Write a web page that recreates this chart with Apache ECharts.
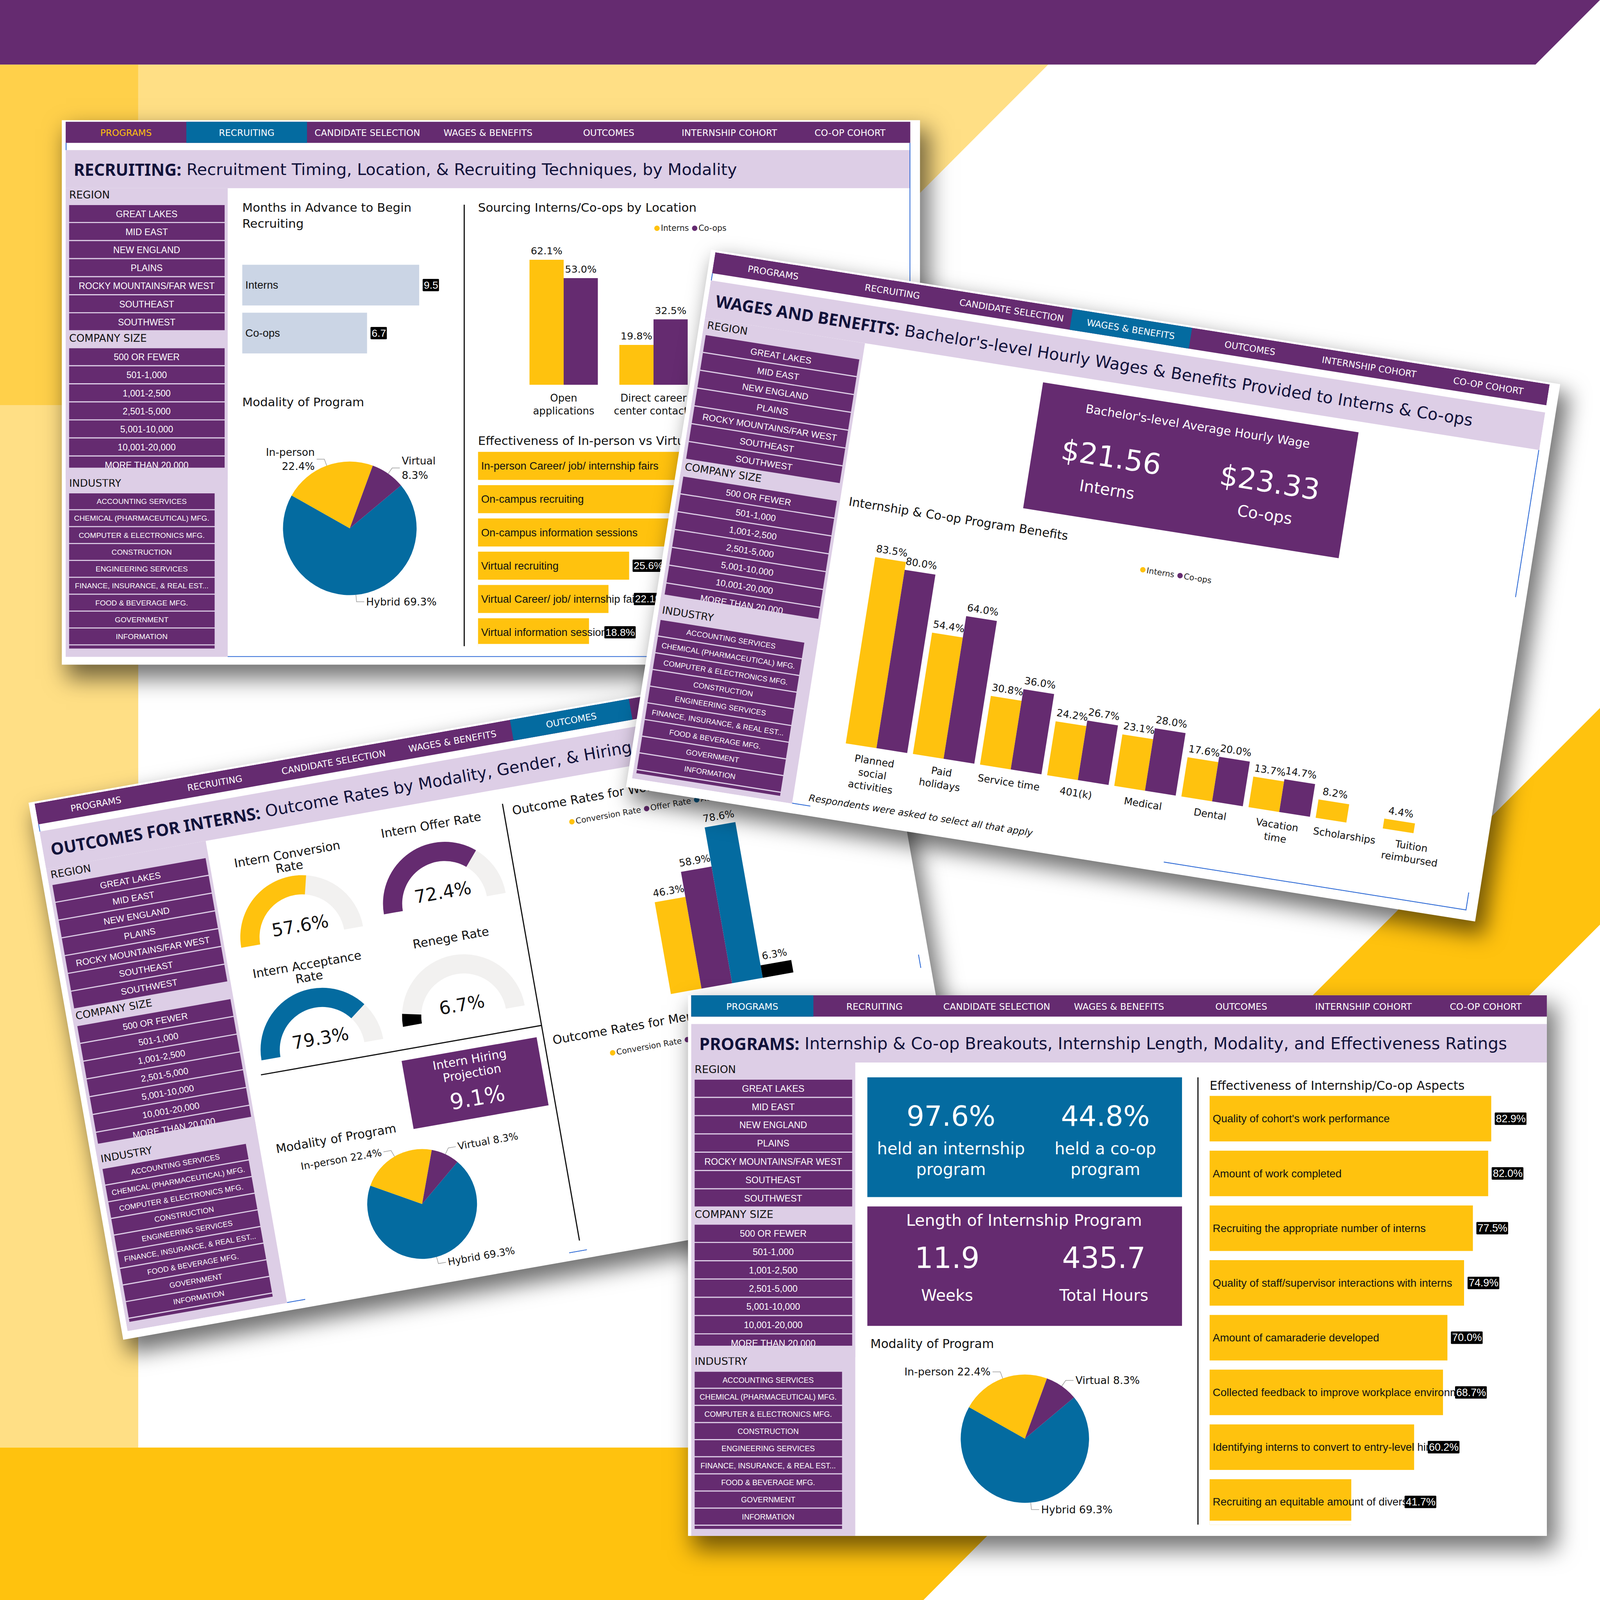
<!DOCTYPE html>
<html>
<head>
<meta charset="utf-8">
<title>Internship and co-op survey dashboards</title>
<script src="https://cdn.jsdelivr.net/npm/echarts@6/dist/echarts.min.js"></script>
<style>
  html, body { margin: 0; padding: 0; background: #fff; overflow: hidden; }
  #page { position: relative; width: 4167px; height: 4167px; overflow: hidden; transform-origin: 0 0; }
  .full { position: absolute; left: 0; top: 0; width: 4167px; height: 4167px; }
  .panel { position: absolute; left: 0; top: 0; transform-origin: 0 0; }
  .card { position: absolute; background: #fff; }
  .chart { position: absolute; left: 0; top: 0; }
</style>
</head>
<body>
<div id="page"><div id="bg" class="full"></div></div>
<script>
// colours
const PURPLE = "#652B70";
const BLUE = "#046BA0";
const YELLOW = "#FFC20E";
const LILAC = "#DDCEE6";
const SLATE = "#CBD5E5";
const GREY = "#F2F1F0";
const INK = "#11123A";
const LINE_BLUE = "#2F6BD6";
const UI_FONT = "DejaVu Sans";
const BOX_FONT = "Liberation Sans";

// sidebar + nav text
const navTabs = ["PROGRAMS", "RECRUITING", "CANDIDATE SELECTION", "WAGES & BENEFITS", "OUTCOMES", "INTERNSHIP COHORT", "CO-OP COHORT"];
const regionList = ["GREAT LAKES", "MID EAST", "NEW ENGLAND", "PLAINS", "ROCKY MOUNTAINS/FAR WEST", "SOUTHEAST", "SOUTHWEST"];
const sizeList = ["500 OR FEWER", "501-1,000", "1,001-2,500", "2,501-5,000", "5,001-10,000", "10,001-20,000", "MORE THAN 20,000"];
const industryList = ["ACCOUNTING SERVICES", "CHEMICAL (PHARMACEUTICAL) MFG.", "COMPUTER & ELECTRONICS MFG.", "CONSTRUCTION", "ENGINEERING SERVICES", "FINANCE, INSURANCE, & REAL EST...", "FOOD & BEVERAGE MFG.", "GOVERNMENT", "INFORMATION"];

// recruiting
const monthCats = ["Interns", "Co-ops"];
const monthVals = [9.5, 6.7];
const locationCats = ["Open\napplications", "Direct career\ncenter contacts"];
const locationInterns = [62.1, 19.8];
const locationCoops = [53.0, 32.5];
const techCats = ["In-person Career/ job/ internship fairs", "On-campus recruiting", "On-campus information sessions", "Virtual recruiting", "Virtual Career/ job/ internship fairs", "Virtual information sessions"];
const techVals = [38.6, 35.9, 33.6, 25.6, 22.1, 18.8]; // first three are hidden behind the wages card, estimated

// shared pie
const modalityNames = ["Hybrid", "In-person", "Virtual"];
const modalityVals = [69.3, 22.4, 8.3];

// wages
const benefitCats = ["Planned\nsocial\nactivities", "Paid\nholidays", "Service time", "401(k)", "Medical", "Dental", "Vacation\ntime", "Scholarships", "Tuition\nreimbursed"];
const benefitInterns = [83.5, 54.4, 30.8, 24.2, 23.1, 17.6, 13.7, 8.2, 4.4];
const benefitCoops = [80.0, 64.0, 36.0, 26.7, 28.0, 20.0, 14.7, null, null];

// outcomes
const gaugeNames = ["Intern Conversion\nRate", "Intern Offer Rate", "Intern Acceptance\nRate", "Renege Rate"];
const gaugeVals = [57.6, 72.4, 79.3, 6.7];
const rateNames = ["Conversion Rate", "Offer Rate", "Acceptance Rate", "Renege Rate"];
const womenRates = [46.3, 58.9, 78.6, 6.3];

// programs
const aspectCats = ["Quality of cohort's work performance", "Amount of work completed", "Recruiting the appropriate number of interns", "Quality of staff/supervisor interactions with interns", "Amount of camaraderie developed", "Collected feedback to improve workplace environment", "Identifying interns to convert to entry-level hires", "Recruiting an equitable amount of divers"];
const aspectVals = [82.9, 82.0, 77.5, 74.9, 70.0, 68.7, 60.2, 41.7];

const pct = v => v.toFixed(1) + "%";
const TITLE_SIZE = 31.5;
// gap before the value chip; rows with long names push it further out
const monthChipGaps = [9, 9];
const techChipGaps = [9, 9, 9, 9, 66, 40];
const aspectChipGaps = [9, 9, 9, 9, 9, 31, 35, 137];

function rect(x, y, w, h, fill, z) {
  return { type: "rect", silent: true, z: z || 0, shape: { x: x, y: y, width: w, height: h }, style: { fill: fill } };
}
function line(x1, y1, x2, y2, color, width) {
  return { type: "line", silent: true, z: 1, shape: { x1: x1, y1: y1, x2: x2, y2: y2 }, style: { stroke: color, lineWidth: width } };
}
function label(x, y, text, size, opts) {
  opts = opts || {};
  return {
    type: "text", silent: true, z: opts.z || 2, x: x, y: y,
    style: {
      text: text, fill: opts.color || "#111",
      font: (opts.style || "") + " " + size + "px " + (opts.family || UI_FONT),
      textAlign: opts.align || "left", textVerticalAlign: "middle",
      lineHeight: opts.lineHeight || Math.round(size * 1.2)
    }
  };
}

// nav strip, title band and the filter sidebar are the same on every card
function chrome(cfg) {
  const W = 2200, H = cfg.H;
  let els = [];
  els.push(rect(0, 74, W, 99, LILAC));
  els.push(rect(0, 173, 422, H - 173, LILAC));
  els.push(rect(0, 0, W, 55, PURPLE));
  navTabs.forEach((tab, i) => {
    const w = W / 7;
    if (i === cfg.active) els.push(rect(i * w, 0, w, 55, BLUE));
    els.push(label(i * w + w / 2, 29, tab, 23.5, { align: "center", color: i === cfg.gold ? YELLOW : "#fff" }));
  });
  if (cfg.tick) els.push(line(1, 55, 1, 74, LINE_BLUE, 2.5));
  els.push({
    type: "text", silent: true, z: 2, x: 21, y: 124,
    style: {
      text: "{b|" + cfg.boldTitle + "} " + cfg.title, fill: INK,
      font: "42.4px " + UI_FONT, textVerticalAlign: "middle",
      rich: { b: { font: "bold 43.5px Noto Sans", fill: INK } }
    }
  });
  els.push(label(9, 190, "REGION", 27));
  regionList.forEach((r, i) => {
    els.push(rect(9, 217 + i * 47, 405, 44, PURPLE));
    els.push(label(211, 240 + i * 47, r, 23.4, { align: "center", color: "#fff", family: BOX_FONT }));
  });
  els.push(label(9, 563, "COMPANY SIZE", 27));
  sizeList.forEach((r, i) => {
    els.push(rect(9, 590 + i * 47, 405, 44, PURPLE));
    els.push(label(211, 613 + i * 47, r, 23.4, { align: "center", color: "#fff", family: BOX_FONT }));
  });
  // last size row is cut off by the scroll area
  els.push(rect(0, 901, 422, 30, LILAC, 3));
  els.push(label(9, 941, "INDUSTRY", 27));
  industryList.forEach((r, i) => {
    els.push(rect(9, 968 + i * 44, 379, 41, PURPLE));
    els.push(label(198, 989 + i * 44, r, 19.5, { align: "center", color: "#fff", family: BOX_FONT }));
  });
  els.push(rect(9, 968 + 9 * 44, 379, 8, PURPLE));
  return els;
}

function modalityPie(cx, cy, r, wrapped, fontSize) {
  const br = wrapped ? "\n" : " ";
  return {
    type: "pie", center: [cx, cy], radius: [0, r], startAngle: 40, avoidLabelOverlap: false,
    data: modalityNames.map((n, i) => ({
      name: n, value: modalityVals[i],
      itemStyle: { color: [BLUE, YELLOW, PURPLE][i] },
      label: { formatter: n + (n === "Hybrid" ? " " : br) + pct(modalityVals[i]) }
    })),
    label: { fontFamily: UI_FONT, fontSize: fontSize, lineHeight: fontSize + 10, color: "#111" },
    labelLine: { length: 18, length2: 20, lineStyle: { color: "#999", width: 1.5 } }
  };
}

// horizontal bar pair: the name sits on the bar, the value goes in a black chip after it
function chipBars(gridIndex, vals, barW, fmt, color, gaps) {
  return [
    {
      type: "bar", xAxisIndex: gridIndex, yAxisIndex: gridIndex, barWidth: barW, barGap: "-100%",
      itemStyle: { color: color },
      data: vals,
      label: { show: true, position: "insideLeft", distance: 8, formatter: "{b}", color: "#111", fontFamily: BOX_FONT, fontSize: 28 }
    },
    {
      type: "bar", xAxisIndex: gridIndex, yAxisIndex: gridIndex, barWidth: barW, z: 4,
      itemStyle: { color: "transparent" },
      data: vals.map((v, i) => ({ value: v, label: { distance: gaps[i] } })),
      label: {
        show: true, position: "right", formatter: p => fmt(p.value), color: "#fff",
        backgroundColor: "#000", padding: [3, 2, 2, 3], borderRadius: 2, fontFamily: BOX_FONT, fontSize: 27
      }
    }
  ];
}

function hiddenValue(gridIndex, max) {
  return { type: "value", gridIndex: gridIndex, min: 0, max: max, show: false };
}
function catY(gridIndex, cats) {
  return { type: "category", gridIndex: gridIndex, data: cats, inverse: true, show: false };
}
function catX(gridIndex, cats, fontSize) {
  return {
    type: "category", gridIndex: gridIndex, data: cats,
    axisLine: { show: false }, axisTick: { show: false },
    axisLabel: { interval: 0, margin: 17, color: "#111", fontFamily: UI_FONT, fontSize: fontSize, lineHeight: fontSize + 8 }
  };
}
function columnSeries(name, gridIndex, vals, color, barW) {
  return {
    name: name, type: "bar", xAxisIndex: gridIndex, yAxisIndex: gridIndex, barWidth: barW, barGap: 0,
    itemStyle: { color: color }, data: vals,
    label: { show: true, position: "top", distance: 10, formatter: p => pct(p.value), color: "#111", fontFamily: UI_FONT, fontSize: 26 }
  };
}
function legendAt(left, top, names) {
  return {
    left: left, top: top, data: names, icon: "circle", itemWidth: 14, itemHeight: 14, itemGap: 8, selectedMode: false,
    textStyle: { fontFamily: UI_FONT, fontSize: 21, color: "#222", padding: [0, 0, 0, -2] }
  };
}

function recruitingOption() {
  const H = 1394;
  let els = chrome({ H: H, active: 1, gold: 0, tick: true, boldTitle: "RECRUITING:", title: "Recruitment Timing, Location, & Recruiting Techniques, by Modality" });
  els.push(line(2199, 55, 2199, 1000, LINE_BLUE, 2.5));
  els.push(line(422, H - 1, 2200, H - 1, LINE_BLUE, 2.5));
  els.push(line(1038, 216, 1038, 1366, "#111", 3));
  els.push(label(460, 244, "Months in Advance to Begin\nRecruiting", TITLE_SIZE, { lineHeight: 42 }));
  els.push(label(460, 730, "Modality of Program", TITLE_SIZE));
  els.push(label(1074, 223, "Sourcing Interns/Co-ops by Location", TITLE_SIZE));
  els.push(label(1074, 831, "Effectiveness of In-person vs Virtual Recruiting Techniques", TITLE_SIZE));
  // the last row is cut off by the scroll area
  els.push(rect(1074, 1360, 400, 10, "#fff", 10));
  return {
    animation: false,
    graphic: { elements: els },
    legend: [legendAt(1528, 262, ["Interns", "Co-ops"])],
    grid: [
      { left: 460, top: 363, width: 485, height: 250 },
      { left: 1180, top: 161, width: 468, height: 524 },
      { left: 1074, top: 853, width: 1076, height: 520 }
    ],
    xAxis: [hiddenValue(0, 10), catX(1, locationCats, 26.5), hiddenValue(2, 70)],
    yAxis: [catY(0, monthCats), hiddenValue(1, 100), catY(2, techCats)],
    series: [
      ...chipBars(0, monthVals, 106, v => v.toFixed(1), SLATE, monthChipGaps),
      columnSeries("Interns", 1, locationInterns, YELLOW, 89),
      columnSeries("Co-ops", 1, locationCoops, PURPLE, 89),
      ...chipBars(2, techVals, 73, pct, YELLOW, techChipGaps),
      modalityPie(740, 1059, 174, true, 27)
    ]
  };
}

function wagesOption() {
  const H = 1387;
  let els = chrome({ H: H, active: 3, tick: true, boldTitle: "WAGES AND BENEFITS:", title: "Bachelor's-level Hourly Wages & Benefits Provided to Interns & Co-ops" });
  els.push(line(2199, 173, 2199, 561, LINE_BLUE, 2.5));
  els.push(line(1402, H - 1, 2200, H - 1, LINE_BLUE, 2.5));
  els.push(line(2199, 1340, 2199, H, LINE_BLUE, 2.5));
  els.push(line(422, H - 1, 470, H - 1, LINE_BLUE, 2.5));
  els.push(rect(896, 201, 832, 332, PURPLE));
  els.push(label(1312, 251, "Bachelor's-level Average Hourly Wage", 31, { align: "center", color: "#fff" }));
  els.push(label(1102, 366, "$21.56", 75, { align: "center", color: "#fff" }));
  els.push(label(1520, 366, "$23.33", 75, { align: "center", color: "#fff" }));
  els.push(label(1104, 451, "Interns", 41.5, { align: "center", color: "#fff" }));
  els.push(label(1520, 451, "Co-ops", 41.5, { align: "center", color: "#fff" }));
  els.push(label(445, 586, "Internship & Co-op Program Benefits", TITLE_SIZE));
  els.push(label(463, 1365, "Respondents were asked to select all that apply", 24.5, { style: "italic" }));
  return {
    animation: false,
    graphic: { elements: els },
    legend: [legendAt(1217, 627, ["Interns", "Co-ops"])],
    grid: [{ left: 528, top: 622, width: 1593, height: 588 }],
    xAxis: [catX(0, benefitCats, 26)],
    yAxis: [hiddenValue(0, 100)],
    series: [
      columnSeries("Interns", 0, benefitInterns, YELLOW, 81),
      columnSeries("Co-ops", 0, benefitCoops, PURPLE, 81)
    ]
  };
}

function outcomesOption() {
  const H = 1395;
  let els = chrome({ H: H, active: 4, tick: true, boldTitle: "OUTCOMES FOR INTERNS:", title: "Outcome Rates by Modality, Gender, & Hiring Projection" });
  els.push(line(422, H - 1, 470, H - 1, LINE_BLUE, 2.5));
  els.push(line(1168, H - 1, 1215, H - 1, LINE_BLUE, 2.5));
  els.push(line(2199, 787, 2199, 822, LINE_BLUE, 2.5));
  els.push(line(1200, 212, 1200, 1367, "#111", 3));
  els.push(line(458, 798, 1200, 798, "#111", 3));
  const titlePos = [[625, 260], [1007, 234], [626, 552], [1007, 532]];
  gaugeNames.forEach((n, i) => {
    els.push(label(titlePos[i][0], titlePos[i][1], n, TITLE_SIZE, { align: "center", lineHeight: 33 }));
  });
  els.push(rect(825, 826, 357, 180, PURPLE));
  els.push(label(1000, 871, "Intern Hiring\nProjection", 31, { align: "center", color: "#fff", lineHeight: 36 }));
  els.push(label(1003, 954, "9.1%", 57, { align: "center", color: "#fff" }));
  els.push(label(463, 995, "Modality of Program", TITLE_SIZE));
  els.push(label(1222, 234, "Outcome Rates for Women", TITLE_SIZE));
  els.push(label(1222, 841, "Outcome Rates for Men", TITLE_SIZE));
  const gaugeCentres = [[626, 463], [1007, 442], [627, 761], [1005, 739]];
  const gaugeColors = [YELLOW, PURPLE, BLUE, "#000"];
  const gauges = gaugeVals.map((v, i) => ({
    type: "gauge", center: gaugeCentres[i], radius: 161, startAngle: 180, endAngle: 0, min: 0, max: 100,
    progress: { show: true, width: 50, itemStyle: { color: gaugeColors[i] } },
    axisLine: { lineStyle: { width: 50, color: [[1, GREY]] } },
    pointer: { show: false }, axisTick: { show: false }, splitLine: { show: false }, axisLabel: { show: false },
    title: { show: false },
    detail: { offsetCenter: [0, -30], formatter: x => pct(x), color: "#111", fontWeight: "normal", fontFamily: UI_FONT, fontSize: 47 },
    data: [{ value: v }]
  }));
  return {
    animation: false,
    graphic: { elements: els },
    legend: [legendAt(1358, 274, rateNames), legendAt(1358, 885, rateNames)],
    grid: [{ left: 1500, top: 252, width: 416, height: 524 }],
    xAxis: [{ type: "category", data: ["Women"], show: false }],
    yAxis: [hiddenValue(0, 100)],
    series: [
      ...gauges,
      ...rateNames.map((n, i) => columnSeries(n, 0, [womenRates[i]], gaugeColors[i], 81)),
      modalityPie(813, 1202, 143, false, 26)
    ]
  };
}

function programsOption() {
  const H = 1390;
  let els = chrome({ H: H, active: 0, boldTitle: "PROGRAMS:", title: "Internship & Co-op Breakouts, Internship Length, Modality, and Effectiveness Ratings" });
  els.push(rect(453, 211, 809, 308, BLUE));
  els.push(label(668, 310, "97.6%", 72, { align: "center", color: "#fff" }));
  els.push(label(1065, 310, "44.8%", 72, { align: "center", color: "#fff" }));
  els.push(label(668, 421, "held an internship\nprogram", 42, { align: "center", color: "#fff", lineHeight: 54 }));
  els.push(label(1065, 421, "held a co-op\nprogram", 42, { align: "center", color: "#fff", lineHeight: 54 }));
  els.push(rect(453, 543, 809, 307, PURPLE));
  els.push(label(856, 579, "Length of Internship Program", 41.5, { align: "center", color: "#fff" }));
  els.push(label(658, 676, "11.9", 75, { align: "center", color: "#fff" }));
  els.push(label(1061, 676, "435.7", 75, { align: "center", color: "#fff" }));
  els.push(label(658, 771, "Weeks", 41, { align: "center", color: "#fff" }));
  els.push(label(1061, 771, "Total Hours", 41, { align: "center", color: "#fff" }));
  els.push(label(461, 896, "Modality of Program", TITLE_SIZE));
  els.push(line(1303, 211, 1303, 1361, "#111", 3));
  els.push(label(1333, 232, "Effectiveness of Internship/Co-op Aspects", TITLE_SIZE));
  // the last row is cut off by the scroll area
  els.push(rect(1333, 1351, 400, 10, "#fff", 10));
  return {
    animation: false,
    graphic: { elements: els },
    grid: [{ left: 1333, top: 247, width: 786, height: 1126 }],
    xAxis: [hiddenValue(0, 90)],
    yAxis: [catY(0, aspectCats)],
    series: [
      ...chipBars(0, aspectVals, 117, pct, YELLOW, aspectChipGaps),
      modalityPie(858, 1140, 165, false, 27)
    ]
  };
}

// the browser window can be a little smaller than the poster, so fit it
const page = document.getElementById("page");
page.style.transform = "scale(" + Math.min(innerWidth, innerHeight) / 4167 + ")";

// background blocks of the poster
const bgChart = echarts.init(document.getElementById("bg"), null, { renderer: "svg" });
function poly(points, fill) {
  return { type: "polygon", silent: true, shape: { points: points }, style: { fill: fill } };
}
bgChart.setOption({
  animation: false,
  graphic: { elements: [
    poly([[360, 168], [2730, 168], [1500, 1400], [360, 1400]], "#FFDF85"),
    poly([[0, 1055], [360, 1055], [360, 3770], [0, 3770]], "#FFDF85"),
    poly([[0, 168], [360, 168], [360, 1055], [0, 1055]], "#FFD04A"),
    poly([[0, 3770], [2800, 3770], [2405, 4167], [0, 4167]], YELLOW),
    poly([[4167, 1844], [4167, 2408], [3875, 2700], [3311, 2700]], YELLOW),
    poly([[0, 0], [4167, 0], [3999, 168], [0, 168]], PURPLE)
  ] }
});

function addPanel(cfg) {
  const a = cfg.angle * Math.PI / 180;
  // shadow falls down-right on the page, so turn its offset back into card space
  const sx = 18, sy = 30;
  const lx = sx * Math.cos(a) + sy * Math.sin(a);
  const ly = -sx * Math.sin(a) + sy * Math.cos(a);
  const wrap = document.createElement("div");
  wrap.className = "panel";
  wrap.style.transform = "translate(" + cfg.x + "px," + cfg.y + "px) rotate(" + cfg.angle + "deg) scale(" + cfg.scale + ")";
  const card = document.createElement("div");
  card.className = "card";
  const m = cfg.margin;
  card.style.cssText = "left:" + (-m[3]) + "px;top:" + (-m[0]) + "px;width:" + (2200 + m[3] + m[1]) + "px;height:" + (cfg.H + m[0] + m[2]) + "px;" +
    "box-shadow:" + lx.toFixed(1) + "px " + ly.toFixed(1) + "px 55px 6px rgba(0,0,0,0.55);";
  const holder = document.createElement("div");
  holder.className = "chart";
  holder.style.width = "2200px";
  holder.style.height = cfg.H + "px";
  wrap.appendChild(card);
  wrap.appendChild(holder);
  page.appendChild(wrap);
  const chart = echarts.init(holder, null, { renderer: "svg" });
  chart.setOption(cfg.option);
}

addPanel({ x: 171, y: 317, angle: 0, scale: 1, H: 1394, margin: [4, 25, 20, 10], option: recruitingOption() });
addPanel({ x: 90, y: 2093, angle: -10, scale: 1, H: 1395, margin: [5, 25, 20, 15], option: outcomesOption() });
addPanel({ x: 1863, y: 657, angle: 9, scale: 1, H: 1387, margin: [5, 27, 25, 12], option: wagesOption() });
addPanel({ x: 1800, y: 2592, angle: 0, scale: 1.013, H: 1390, margin: [0, 0, 0, 8], option: programsOption() });
</script>
</body>
</html>
